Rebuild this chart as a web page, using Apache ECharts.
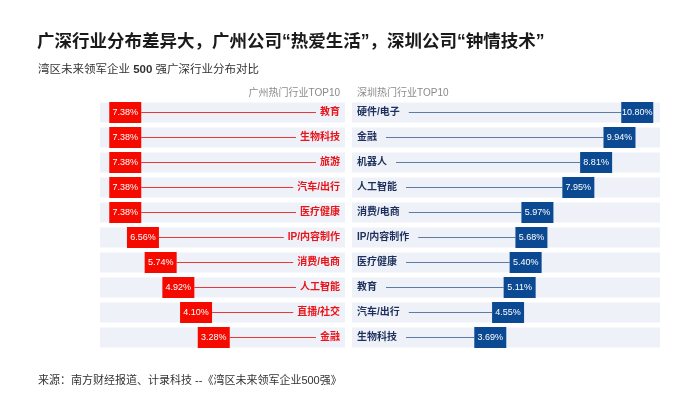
<!DOCTYPE html>
<html>
<head>
<meta charset="utf-8">
<script src="https://cdn.jsdelivr.net/npm/echarts@6/dist/echarts.min.js"></script>
<style>html,body{margin:0;padding:0;background:#fff}#c{width:700px;height:393px}</style>
</head>
<body>
<div id="c"></div>
<script>
// ---- data ----
const gzCategories = ['教育','生物科技','旅游','汽车/出行','医疗健康','IP/内容制作','消费/电商','人工智能','直播/社交','金融'];
const gzValues = [7.38, 7.38, 7.38, 7.38, 7.38, 6.56, 5.74, 4.92, 4.10, 3.28];
const szCategories = ['硬件/电子','金融','机器人','人工智能','消费/电商','IP/内容制作','医疗健康','教育','汽车/出行','生物科技'];
const szValues = [10.80, 9.94, 8.81, 7.95, 5.97, 5.68, 5.40, 5.11, 4.55, 3.69];
const titleText = '广深行业分布差异大，广州公司“热爱生活”，深圳公司“钟情技术”';
const subtitleText = '湾区未来领军企业 {b|500} 强广深行业分布对比';
const sourceText = '来源：南方财经报道、计录科技 --《湾区未来领军企业500强》';
const gzHeader = '广州热门行业TOP10';
const szHeader = '深圳热门行业TOP10';

// ---- styling ----
const FF = 'Arial, "Liberation Sans", "Noto Sans CJK SC", sans-serif';
const BAND = '#eef1f7';
const RED_BOX = '#f50a00', RED_TXT = '#e8141a', RED_LINE = '#e83838';
const BLUE_BOX = '#0b4a92', BLUE_TXT = '#1d2f5c', BLUE_LINE = '#5a7ca6';
const LABEL_FONT = 'bold 10px ' + FF;
const BOX_FONT = '9px ' + FF;
const BOX_W = 32, BOX_H = 21, BAND_H = 20;

const mctx = document.createElement('canvas').getContext('2d');
function textW(t, font){ mctx.font = font; return mctx.measureText(t).width; }

function makeRender(side){
  return function(params, api){
    const i = api.value(1);
    const v = api.value(0);
    const p = api.coord([v, i]);
    const cs = params.coordSys;
    const cy = p[1];
    const cats = side === 'gz' ? gzCategories : szCategories;
    const name = cats[i];
    const lw = textW(name, LABEL_FONT);
    const children = [];
    children.push({type:'rect', shape:{x:cs.x, y:cy - BAND_H/2, width:cs.width, height:BAND_H}, style:{fill:BAND}});
    if (side === 'gz') {
      const lx = cs.x + cs.width - 5;
      children.push({type:'line', shape:{x1:p[0] + BOX_W/2, y1:cy, x2:lx - lw - 4, y2:cy}, style:{stroke:RED_LINE, lineWidth:1}});
      children.push({type:'text', style:{x:lx, y:cy, text:name, fill:RED_TXT, font:LABEL_FONT, align:'right', verticalAlign:'middle', textAlign:'right', textVerticalAlign:'middle'}});
      children.push({type:'rect', shape:{x:p[0] - BOX_W/2, y:cy - BOX_H/2, width:BOX_W, height:BOX_H}, style:{fill:RED_BOX}});
    } else {
      const lx = cs.x + 5;
      children.push({type:'line', shape:{x1:lx + lw + 9, y1:cy, x2:p[0] - BOX_W/2, y2:cy}, style:{stroke:BLUE_LINE, lineWidth:1}});
      children.push({type:'text', style:{x:lx, y:cy, text:name, fill:BLUE_TXT, font:LABEL_FONT, align:'left', verticalAlign:'middle', textAlign:'left', textVerticalAlign:'middle'}});
      children.push({type:'rect', shape:{x:p[0] - BOX_W/2, y:cy - BOX_H/2, width:BOX_W, height:BOX_H}, style:{fill:BLUE_BOX}});
    }
    children.push({type:'text', style:{x:p[0], y:cy, text:v.toFixed(2) + '%', fill:'#fff', font:BOX_FONT, align:'center', verticalAlign:'middle', textAlign:'center', textVerticalAlign:'middle'}});
    return {type:'group', children};
  };
}

const chart = echarts.init(document.getElementById('c'), null, {renderer:'canvas'});
chart.setOption({
  backgroundColor:'#fff',
  animation:false,
  title:[
    {text:titleText, left:37, top:32, padding:0, textStyle:{fontFamily:FF, fontSize:17.5, fontWeight:'bold', color:'#1a1a1a', lineHeight:20}},
    {text:subtitleText, left:38, top:63, padding:0, textStyle:{fontFamily:FF, fontSize:11.5, fontWeight:'normal', color:'#333', lineHeight:14, rich:{b:{fontFamily:FF, fontSize:11.5, fontWeight:'bold', color:'#333'}}}},
    {text:gzHeader, right:360, top:87, padding:0, textStyle:{fontFamily:FF, fontSize:10, fontWeight:'normal', color:'#8a8a8a', lineHeight:12}},
    {text:szHeader, left:357, top:87, padding:0, textStyle:{fontFamily:FF, fontSize:10, fontWeight:'normal', color:'#8a8a8a', lineHeight:12}},
    {text:sourceText, left:38, top:374, padding:0, textStyle:{fontFamily:FF, fontSize:11, fontWeight:'normal', color:'#333', lineHeight:14}}
  ],
  grid:[
    {left:100, width:245, top:100, height:250},
    {left:352, width:308, top:100, height:250}
  ],
  xAxis:[
    {gridIndex:0, type:'value', min:-2.8, max:8.55, inverse:true, show:false},
    {gridIndex:1, type:'value', min:-3, max:11.9, show:false}
  ],
  yAxis:[
    {gridIndex:0, type:'category', data:gzCategories, inverse:true, show:false},
    {gridIndex:1, type:'category', data:szCategories, inverse:true, show:false}
  ],
  series:[
    {type:'custom', name:'广州', xAxisIndex:0, yAxisIndex:0, renderItem:makeRender('gz'), encode:{x:0, y:1}, data:gzValues.map((v,i)=>[v,i]), clip:false},
    {type:'custom', name:'深圳', xAxisIndex:1, yAxisIndex:1, renderItem:makeRender('sz'), encode:{x:0, y:1}, data:szValues.map((v,i)=>[v,i]), clip:false}
  ]
});
</script>
</body>
</html>
